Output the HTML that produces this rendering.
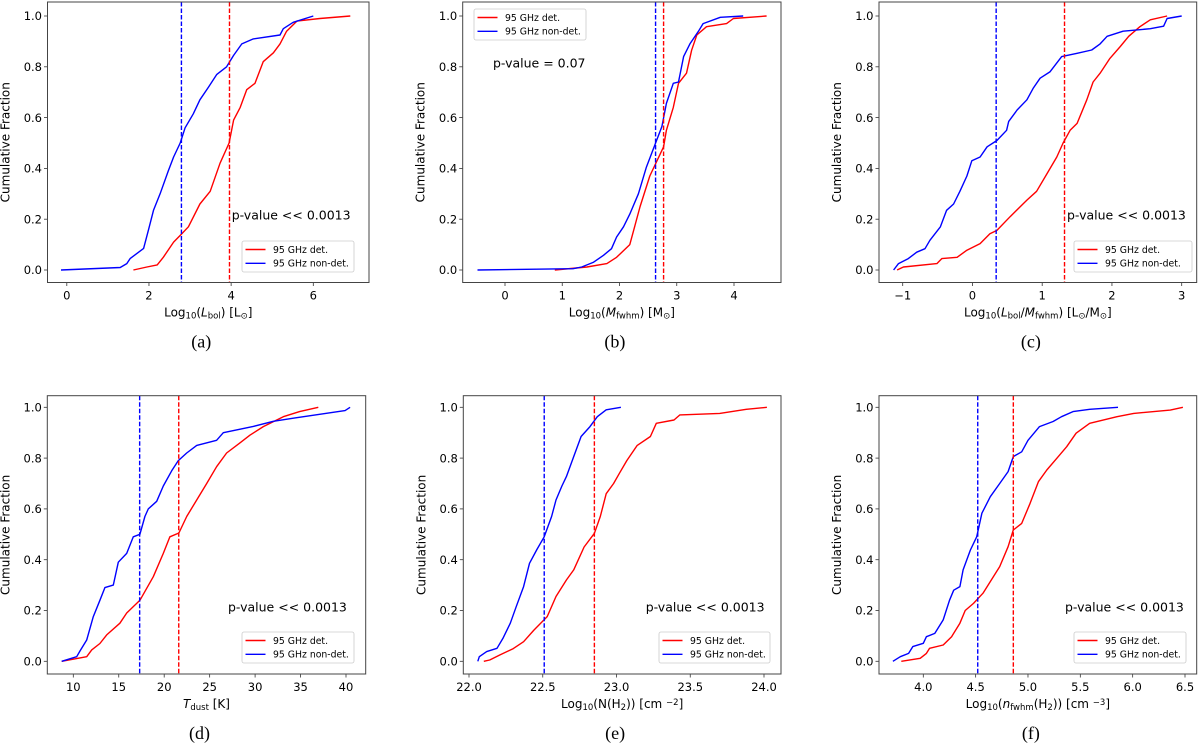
<!DOCTYPE html>
<html><head><meta charset="utf-8">
<style>
html,body{margin:0;padding:0;background:#fff;}
svg{display:block;}
text{font-family:"DejaVu Sans","Liberation Sans",sans-serif;fill:#000;}
.cap{font-family:"Liberation Serif",serif;font-size:18px;}
</style></head>
<body>
<svg id="fig" width="1200" height="747" viewBox="0 0 1200 747" xmlns="http://www.w3.org/2000/svg"></svg>
<script>
// ---------- data (x value, cumulative fraction) ----------
const aDet=[[1.62,0],[1.95,0.012],[2.2,0.02],[2.35,0.05],[2.6,0.11],[2.8,0.143],[2.96,0.17],[3.24,0.26],[3.49,0.31],[3.73,0.42],[3.95,0.5],[4.06,0.59],[4.22,0.64],[4.38,0.71],[4.58,0.735],[4.78,0.82],[5.03,0.855],[5.19,0.89],[5.35,0.94],[5.6,0.98],[6.16,0.99],[6.9,1.0]];
const aNon=[[-0.14,0],[1.3,0.01],[1.46,0.025],[1.54,0.045],[1.87,0.085],[1.99,0.16],[2.11,0.235],[2.27,0.3],[2.47,0.39],[2.6,0.445],[2.76,0.5],[2.88,0.56],[3.08,0.615],[3.24,0.67],[3.45,0.72],[3.65,0.77],[3.89,0.8],[4.06,0.845],[4.26,0.89],[4.54,0.91],[5.19,0.925],[5.27,0.95],[5.51,0.975],[6.0,1.0]];
const aMed=[3.96,2.79];
const bDet=[[0.87,0],[1.43,0.012],[1.78,0.025],[1.95,0.05],[2.18,0.1],[2.36,0.25],[2.53,0.37],[2.77,0.485],[2.82,0.55],[2.94,0.64],[3.03,0.735],[3.17,0.775],[3.26,0.865],[3.35,0.925],[3.52,0.958],[3.87,0.97],[3.99,0.99],[4.57,1.0]];
const bNon=[[-0.48,0],[1.19,0.005],[1.34,0.012],[1.54,0.03],[1.72,0.058],[1.86,0.084],[1.95,0.13],[2.07,0.17],[2.18,0.22],[2.33,0.3],[2.47,0.405],[2.63,0.5],[2.74,0.565],[2.82,0.656],[2.94,0.735],[3.03,0.74],[3.12,0.84],[3.23,0.89],[3.38,0.94],[3.46,0.97],[3.76,0.995],[4.16,1.0]];
const bMed=[2.77,2.63];
const cDet=[[-1.08,0],[-0.99,0.012],[-0.51,0.025],[-0.44,0.045],[-0.22,0.05],[-0.08,0.078],[0.11,0.104],[0.25,0.143],[0.35,0.156],[0.54,0.21],[0.78,0.275],[0.92,0.31],[1.07,0.38],[1.21,0.445],[1.3,0.5],[1.4,0.55],[1.5,0.577],[1.64,0.67],[1.73,0.74],[1.83,0.775],[1.97,0.833],[2.12,0.88],[2.24,0.92],[2.4,0.958],[2.55,0.985],[2.79,1.0]];
const cNon=[[-1.13,0],[-1.06,0.025],[-0.92,0.045],[-0.8,0.07],[-0.68,0.084],[-0.61,0.117],[-0.46,0.17],[-0.37,0.235],[-0.27,0.26],[-0.18,0.31],[-0.08,0.37],[-0.01,0.43],[0.11,0.445],[0.21,0.485],[0.35,0.51],[0.49,0.55],[0.52,0.585],[0.64,0.63],[0.78,0.67],[0.87,0.715],[0.97,0.755],[1.11,0.78],[1.28,0.84],[1.5,0.853],[1.71,0.866],[1.83,0.89],[1.93,0.92],[2.16,0.94],[2.55,0.95],[2.74,0.96],[2.79,0.99],[3.0,1.0]];
const cMed=[1.32,0.34];
const dDet=[[8.72,0],[11.47,0.018],[12.02,0.045],[12.93,0.07],[13.67,0.104],[15.13,0.15],[15.87,0.19],[17.33,0.24],[18.8,0.333],[19.9,0.425],[20.63,0.49],[21.62,0.505],[22.47,0.57],[23.57,0.635],[24.67,0.7],[25.77,0.766],[26.87,0.82],[28.33,0.86],[29.43,0.89],[30.9,0.924],[33.1,0.963],[34.9,0.983],[36.95,1.0]];
const dNon=[[8.72,0],[10.37,0.018],[10.73,0.04],[11.47,0.084],[12.2,0.176],[12.93,0.24],[13.48,0.29],[14.4,0.3],[14.95,0.39],[15.87,0.425],[16.6,0.49],[17.33,0.5],[17.88,0.57],[18.25,0.6],[19.17,0.63],[19.9,0.69],[20.82,0.75],[21.55,0.79],[22.47,0.82],[23.57,0.85],[25.77,0.87],[26.5,0.9],[29.8,0.925],[32,0.945],[34.2,0.957],[39.9,0.987],[40.45,1.0]];
const dMed=[21.6,17.3];
const eDet=[[22.1,0],[22.14,0.005],[22.21,0.025],[22.3,0.05],[22.37,0.077],[22.44,0.123],[22.53,0.176],[22.59,0.255],[22.66,0.32],[22.71,0.36],[22.78,0.45],[22.85,0.504],[22.89,0.57],[22.93,0.66],[22.98,0.7],[23.02,0.74],[23.07,0.79],[23.14,0.85],[23.23,0.885],[23.27,0.937],[23.39,0.95],[23.43,0.97],[23.7,0.976],[23.88,0.992],[24.02,1.0]];
const eNon=[[22.06,0],[22.07,0.018],[22.12,0.038],[22.19,0.051],[22.23,0.09],[22.28,0.15],[22.32,0.215],[22.37,0.294],[22.41,0.386],[22.46,0.44],[22.51,0.49],[22.56,0.57],[22.59,0.635],[22.63,0.69],[22.66,0.727],[22.71,0.806],[22.76,0.885],[22.82,0.924],[22.87,0.963],[22.93,0.99],[23.03,1.0]];
const eMed=[22.85,22.51];
const fDet=[[3.79,0],[3.97,0.012],[4.03,0.031],[4.06,0.051],[4.19,0.064],[4.27,0.097],[4.35,0.15],[4.4,0.2],[4.48,0.228],[4.57,0.268],[4.65,0.32],[4.73,0.373],[4.81,0.451],[4.86,0.517],[4.94,0.543],[5.02,0.622],[5.1,0.707],[5.18,0.753],[5.29,0.806],[5.37,0.845],[5.46,0.898],[5.59,0.937],[5.85,0.963],[6.01,0.976],[6.36,0.989],[6.48,1.0]];
const fNon=[[3.71,0],[3.78,0.018],[3.86,0.031],[3.9,0.058],[4.0,0.071],[4.03,0.097],[4.11,0.11],[4.19,0.163],[4.25,0.24],[4.29,0.28],[4.35,0.294],[4.38,0.36],[4.45,0.438],[4.51,0.49],[4.56,0.583],[4.64,0.648],[4.73,0.7],[4.81,0.747],[4.86,0.806],[4.94,0.825],[5.0,0.87],[5.11,0.924],[5.24,0.944],[5.32,0.963],[5.43,0.983],[5.59,0.992],[5.86,1.0]];
const fMed=[4.86,4.52];
const yTicks=[0,0.2,0.4,0.6,0.8,1.0];
const yTickLabels=["0.0","0.2","0.4","0.6","0.8","1.0"];
const aTicks=[0,2,4,6], aTickLabels=["0","2","4","6"];
const bTicks=[0,1,2,3,4], bTickLabels=["0","1","2","3","4"];
const cTicks=[-1,0,1,2,3], cTickLabels=["\u22121","0","1","2","3"];
const dTicks=[10,15,20,25,30,35,40], dTickLabels=["10","15","20","25","30","35","40"];
const eTicks=[22,22.5,23,23.5,24], eTickLabels=["22.0","22.5","23.0","23.5","24.0"];
const fTicks=[4,4.5,5,5.5,6,6.5], fTickLabels=["4.0","4.5","5.0","5.5","6.0","6.5"];

const panels=[
 {id:"a",det:aDet,non:aNon,med:aMed,ticks:aTicks,tl:aTickLabels,box:[47.5,2,369,282.5],cal:[0,66.8,6,313.3],row:0,
  xl:'Log<tspan baseline-shift="-25%" font-size="8.5">10</tspan>(<tspan font-style="italic">L</tspan><tspan baseline-shift="-25%" font-size="8.5">bol</tspan>) [L<tspan baseline-shift="-25%" font-size="8.5">⊙</tspan>]',
  p:"p-value << 0.0013",pp:[231.7,215],leg:[242,241,112,31]},
 {id:"b",det:bDet,non:bNon,med:bMed,ticks:bTicks,tl:bTickLabels,box:[462.7,2,781,282.5],cal:[0,505,4,734],row:0,
  xl:'Log<tspan baseline-shift="-25%" font-size="8.5">10</tspan>(<tspan font-style="italic">M</tspan><tspan baseline-shift="-25%" font-size="8.5">fwhm</tspan>) [M<tspan baseline-shift="-25%" font-size="8.5">⊙</tspan>]',
  p:"p-value = 0.07",pp:[493,63],leg:[474,9,112,31]},
 {id:"c",det:cDet,non:cNon,med:cMed,ticks:cTicks,tl:cTickLabels,box:[879,2,1196.7,282.5],cal:[-1,902.7,3,1181.7],row:0,
  xl:'Log<tspan baseline-shift="-25%" font-size="8.5">10</tspan>(<tspan font-style="italic">L</tspan><tspan baseline-shift="-25%" font-size="8.5">bol</tspan>/<tspan font-style="italic">M</tspan><tspan baseline-shift="-25%" font-size="8.5">fwhm</tspan>) [L<tspan baseline-shift="-25%" font-size="8.5">⊙</tspan>/M<tspan baseline-shift="-25%" font-size="8.5">⊙</tspan>]',
  p:"p-value << 0.0013",pp:[1067,215],leg:[1074,241,118,31]},
 {id:"d",det:dDet,non:dNon,med:dMed,ticks:dTicks,tl:dTickLabels,box:[47.3,395.7,365.7,674],cal:[10,73.3,40,346],row:1,
  xl:'<tspan font-style="italic">T</tspan><tspan baseline-shift="-25%" font-size="8.5">dust</tspan> [K]',
  p:"p-value << 0.0013",pp:[228,607],leg:[242,632,112,31]},
 {id:"e",det:eDet,non:eNon,med:eMed,ticks:eTicks,tl:eTickLabels,box:[463.3,395.7,781,674],cal:[22,469,24,764],row:1,
  xl:'Log<tspan baseline-shift="-25%" font-size="8.5">10</tspan>(N(H<tspan baseline-shift="-25%" font-size="8.5">2</tspan>)) [cm <tspan baseline-shift="35%" font-size="8.5">−2</tspan>]',
  p:"p-value << 0.0013",pp:[645.7,607],leg:[659,632,111,31]},
 {id:"f",det:fDet,non:fNon,med:fMed,ticks:fTicks,tl:fTickLabels,box:[879,395.7,1196.7,674],cal:[4,923.3,6.5,1185],row:1,
  xl:'Log<tspan baseline-shift="-25%" font-size="8.5">10</tspan>(<tspan font-style="italic">n</tspan><tspan baseline-shift="-25%" font-size="8.5">fwhm</tspan>(H<tspan baseline-shift="-25%" font-size="8.5">2</tspan>)) [cm <tspan baseline-shift="35%" font-size="8.5">−3</tspan>]',
  p:"p-value << 0.0013",pp:[1065,607],leg:[1074,632,112,31]}
];
const rowY=[[270,16],[661.3,407.3]];
const NS="http://www.w3.org/2000/svg";
const svg=document.getElementById("fig");
function mk(tag,attrs,parent){const e=document.createElementNS(NS,tag);for(const k in attrs)e.setAttribute(k,attrs[k]);parent.appendChild(e);return e;}

panels.forEach(P=>{
  const [L,T,R,B]=P.box;
  const xs=v=>P.cal[1]+(v-P.cal[0])*(P.cal[3]-P.cal[1])/(P.cal[2]-P.cal[0]);
  const ys=v=>rowY[P.row][0]+v*(rowY[P.row][1]-rowY[P.row][0]);
  const g=mk("g",{},svg);
  
  
  yTicks.forEach((t,i)=>{
    const tk=mk("line",{x1:L-3.5,x2:L,y1:ys(t),y2:ys(t),stroke:"#333","stroke-width":0.8},g);
    
    
    const tx=mk("text",{x:L-5.5,y:ys(t)+4.2,"text-anchor":"end","font-size":"11.5"},g);
    tx.textContent=yTickLabels[i];
    
    
  });
  P.ticks.forEach((t,i)=>{
    const tk=mk("line",{x1:xs(t),x2:xs(t),y1:B,y2:B+3.5,stroke:"#333","stroke-width":0.8},g);
    
    
    const tx=mk("text",{x:xs(t),y:B+17,"text-anchor":"middle","font-size":"11.5"},g);
    tx.textContent=P.tl[i];
    
    
  });
  [[P.det,"#ff0000","det-cdf-line"],[P.non,"#0000ff","nondet-cdf-line"]].forEach(([d,c,n])=>{
    const pl=mk("polyline",{points:d.map(p=>xs(p[0]).toFixed(1)+","+ys(p[1]).toFixed(1)).join(" "),fill:"none",stroke:c,"stroke-width":1.4,"stroke-linejoin":"round"},g);
    
    
  });
  [[P.med[0],"#ff0000","det-median-line"],[P.med[1],"#0000ff","nondet-median-line"]].forEach(([m,c,n])=>{
    const ln=mk("line",{x1:xs(m),x2:xs(m),y1:T,y2:B,stroke:c,"stroke-width":1.4,"stroke-dasharray":"4.5,2"},g);
    
    
  });
  const fr=mk("rect",{x:L,y:T,width:R-L,height:B-T,fill:"none",stroke:"#444","stroke-width":1},g);
  
  
  const yl=mk("text",{x:0,y:0,"text-anchor":"middle","font-size":"12",transform:"translate("+(L-38)+","+((T+B)/2)+") rotate(-90)"},g);
  yl.textContent="Cumulative Fraction";
  
  
  const xl=mk("text",{x:(L+R)/2,y:B+34,"text-anchor":"middle","font-size":"12"},g);
  xl.innerHTML=P.xl;
  
  
  const pv=mk("text",{x:P.pp[0],y:P.pp[1]+4.5,"font-size":"12.5"},g);
  pv.textContent=P.p;
  
  
  const cp=mk("text",{x:(L+R)/2-7,y:B+65,"text-anchor":"middle","class":"cap"},g);
  cp.textContent="("+P.id+")";
  
  
  const [lx,ly,lw,lh]=P.leg;
  const lg=mk("g",{},g);
  
  
  mk("rect",{x:lx,y:ly,width:lw,height:lh,rx:2,fill:"#fff",stroke:"#ccc","stroke-width":0.8},lg);
  [["#ff0000","95 GHz det.",8.5],["#0000ff","95 GHz non-det.",22.3]].forEach(([c,t,dy])=>{
    const le=mk("g",{},lg);
    
    
    mk("line",{x1:lx+3.5,x2:lx+23.5,y1:ly+dy,y2:ly+dy,stroke:c,"stroke-width":1.4},le);
    const tt=mk("text",{x:lx+31,y:ly+dy+3.3,"font-size":"9.3"},le);
    tt.textContent=t;
  });
});
</script>
</body></html>
